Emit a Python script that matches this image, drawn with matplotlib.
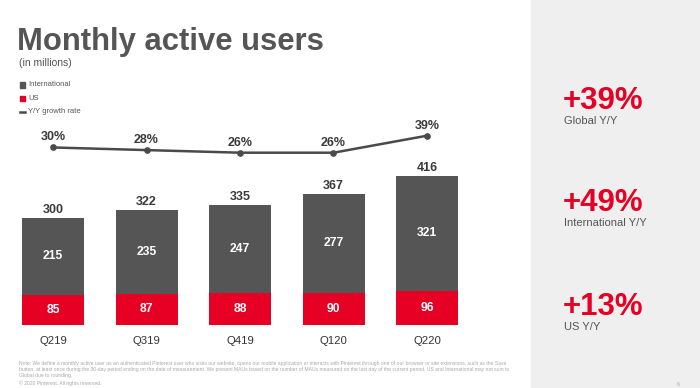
import matplotlib
matplotlib.use("Agg")
import matplotlib.pyplot as plt
from matplotlib.patches import Rectangle

plt.rcParams['font.family'] = ['Liberation Sans', 'DejaVu Sans']

quarters = ["Q219", "Q319", "Q419", "Q120", "Q220"]
international = [215, 235, 247, 277, 321]
us = [85, 87, 88, 90, 96]
totals = [300, 322, 335, 367, 416]
growth = [30, 28, 26, 26, 39]

kpi_values = ["+39%", "+49%", "+13%"]
kpi_labels = ["Global Y/Y", "International Y/Y", "US Y/Y"]

RED = "#e60023"
DARK = "#555555"
TXT = "#4a4a4a"

W, H = 700, 388
fig = plt.figure(figsize=(7, 3.88), dpi=100)

# background overlay axes in pixel coordinates
bg = fig.add_axes([0, 0, 1, 1])
bg.set_xlim(0, W)
bg.set_ylim(H, 0)
bg.axis("off")
bg.add_patch(Rectangle((531, 0), W - 531, H, color="#efefef", zorder=0))

bg.text(17, 50, "Monthly active users", fontsize=22.3, fontweight="bold",
        color=DARK, va="baseline", ha="left")
bg.text(19, 63, "(in millions)", fontsize=7.5, color=DARK, va="center")

leg = [("International", DARK, "sq"), ("US", RED, "sq"), ("Y/Y growth rate", TXT, "line")]
for i, (lab, col, kind) in enumerate(leg):
    y = 85 + i * 13.3
    if kind == "sq":
        bg.add_patch(Rectangle((19.5, y - 2.8), 5.5, 5.5, color=col))
    else:
        bg.plot([19.5, 25], [y, y], color=col, lw=1.8)
    bg.text(28, y, lab, fontsize=5.5, color=DARK, va="center")

kpi_y = [109, 211, 315]
for yv, val, lab in zip(kpi_y, kpi_values, kpi_labels):
    bg.text(563, yv, val, fontsize=22.5, fontweight="bold", color=RED,
            va="baseline", ha="left")
    bg.text(564, yv + 7, lab, fontsize=8, color=DARK, va="top", ha="left")

note = ("Note: We define a monthly active user as an authenticated Pinterest user who visits our website, opens our mobile application or interacts with Pinterest through one of our browser or site extensions, such as the Save\n"
        "button, at least once during the 30-day period ending on the date of measurement. We present MAUs based on the number of MAUs measured on the last day of the current period. US and International may not sum to\n"
        "Global due to rounding.\n"
        "\u00a9 2020 Pinterest. All rights reserved.")
bg.text(19, 360.5, note, fontsize=3.65, color="#a8a8a8", va="top", ha="left", linespacing=1.35)
bg.text(677, 384, "6", fontsize=3.6, color="#a8a8a8", va="center")

# bar axes
px_bottom, px_top = 325, 120
x0, dx = 53, 93.5
xl = (-x0 / dx, (531 - x0) / dx)
rect = [0, (H - px_bottom) / H, 531 / W, (px_bottom - px_top) / H]
ax = fig.add_axes(rect)
ax.patch.set_alpha(0)
ax.set_xlim(*xl)
ax.set_ylim(0, (px_bottom - px_top) / 0.358)
idx = list(range(len(quarters)))
bw = 62 / dx
ax.bar(idx, us, width=bw, color=RED, zorder=2)
ax.bar(idx, international, width=bw, bottom=us, color=DARK, zorder=2)
for i in idx:
    ax.text(i, us[i] / 2, str(us[i]), ha="center", va="center", color="white",
            fontsize=8.7, fontweight="bold")
    ax.text(i, us[i] + international[i] / 2, str(international[i]), ha="center",
            va="center", color="white", fontsize=8.7, fontweight="bold")
    ax.annotate(str(totals[i]), (i, totals[i]), xytext=(0, 1.5), textcoords="offset points",
                ha="center", va="bottom", color="#3a3a3a", fontsize=9, fontweight="bold")
ax.set_xticks(idx)
ax.set_xticklabels(quarters, fontsize=8.2, color="#333333")
ax.tick_params(length=0, pad=8)
ax.set_yticks([])
for s in ax.spines.values():
    s.set_visible(False)

# growth line axes
ax2 = fig.add_axes(rect)
ax2.patch.set_alpha(0)
ax2.set_xlim(*xl)
k = 17 / 13.0
ax2.set_ylim(26 - (px_bottom - 152.7) / k, 26 + (152.7 - px_top) / k)
ax2.plot(idx, growth, color=TXT, lw=1.8, marker="o", ms=3.8, zorder=3)
for i in idx:
    ax2.annotate(f"{growth[i]}%", (i, growth[i]), xytext=(0, 3), textcoords="offset points",
                 ha="center", va="bottom", color="#3a3a3a", fontsize=9, fontweight="bold")
ax2.axis("off")

fig.savefig("out.png", dpi=100)
